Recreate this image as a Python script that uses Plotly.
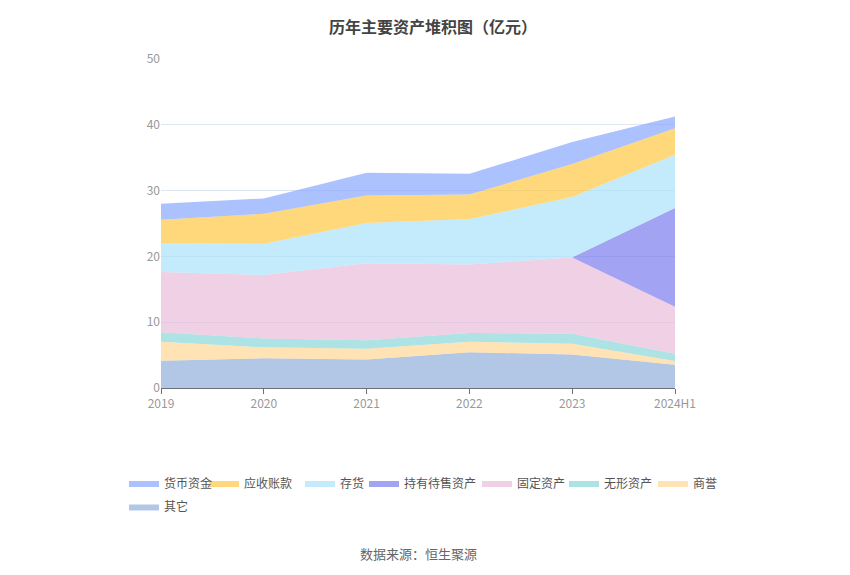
import plotly.graph_objects as go

years = ["2019", "2020", "2021", "2022", "2023", "2024H1"]

# 亿元
qita = [4.15, 4.51, 4.35, 5.42, 5.11, 3.54]
shangyu = [2.89, 1.67, 1.62, 1.62, 1.62, 0.56]
wuxing = [1.42, 1.36, 1.27, 1.31, 1.52, 1.12]
guding = [9.16, 9.62, 11.70, 10.43, 11.60, 7.13]
chiyou = [0, 0, 0, 0, 0, 14.99]
cunhuo = [4.41, 4.76, 6.12, 6.89, 9.16, 8.10]
yingshou = [3.54, 4.56, 4.21, 3.75, 5.02, 4.05]
huobi = [2.43, 2.33, 3.44, 3.14, 3.34, 1.78]

# bottom to top
series = [
    ("其它", qita, "#8EADD9"),
    ("商誉", shangyu, "#FFD591"),
    ("无形资产", wuxing, "#86D6D8"),
    ("固定资产", guding, "#E8B9D8"),
    ("持有待售资产", chiyou, "#7777EE"),
    ("存货", cunhuo, "#A8E1FB"),
    ("应收账款", yingshou, "#FFC53D"),
    ("货币资金", huobi, "#85A5FF"),
]

# where each legend entry sits (page pixels of the text start, row)
legend_pos = {
    "货币资金": (164, 0), "应收账款": (244, 0), "存货": (340, 0),
    "持有待售资产": (404, 0), "固定资产": (517, 0), "无形资产": (604, 0),
    "商誉": (693, 0), "其它": (164, 1),
}

L, T, W, H = 153, 51, 514, 329  # plot area inside the figure


def rgba(hex_color, a):
    h = hex_color.lstrip("#")
    r, g, b = int(h[0:2], 16), int(h[2:4], 16), int(h[4:6], 16)
    return f"rgba({r},{g},{b},{a})"


fig = go.Figure()
legends = {}
for i, (name, vals, color) in enumerate(series):
    lname = "legend" if i == 0 else f"legend{i + 1}"
    fig.add_trace(go.Scatter(
        x=years, y=vals, name=name, legend=lname,
        mode="lines", stackgroup="one",
        line=dict(width=0, color=color),
        fillcolor=rgba(color, 0.68),
    ))
    tx, row = legend_pos[name]
    legends[lname] = dict(
        x=(tx - 8 - 40 - L) / W, xanchor="left",
        y=(T + H - (483 + 23.5 * row - 8)) / H, yanchor="middle",
        orientation="h", font=dict(size=12, color="#555"),
        bgcolor="rgba(0,0,0,0)", borderwidth=0,
    )

fig.update_layout(
    width=850, height=575,
    margin=dict(l=L, r=850 - L - W, t=T, b=575 - T - H),
    paper_bgcolor="white", plot_bgcolor="white",
    font=dict(family="Noto Sans CJK SC, sans-serif", size=12, color="#666"),
    title=dict(text="<b>历年主要资产堆积图（亿元）</b>", x=0.5, xanchor="center",
               y=0.976, yanchor="top", font=dict(size=16, color="#444")),
    showlegend=True,
    xaxis=dict(range=[0, 5], showgrid=False, showline=True, linecolor="#6E7079",
               ticks="outside", tickcolor="#6E7079", ticklen=5,
               tickfont=dict(color="#999", size=12)),
    yaxis=dict(range=[0, 50], dtick=10, showgrid=True, gridcolor="#E0E6F1",
               zeroline=False, showline=False, ticks="",
               tickfont=dict(color="#999", size=12)),
    annotations=[dict(text="数据来源：恒生聚源", x=0.5, xref="paper", xanchor="center",
                      y=(T + H - (553 - 8)) / H, yref="paper", yanchor="middle",
                      showarrow=False, font=dict(size=13, color="#666"))],
)
fig.update_layout(**legends)

fig.write_html("out.html")
